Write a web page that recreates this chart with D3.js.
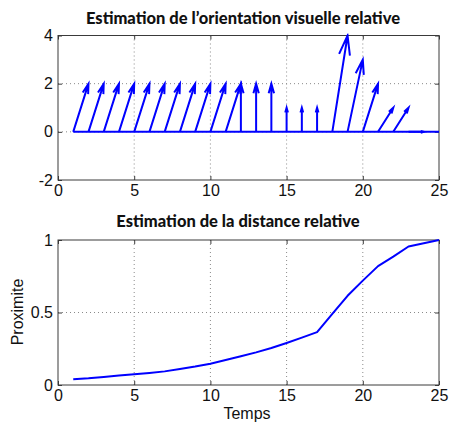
<!DOCTYPE html>
<html><head><meta charset="utf-8">
<script src="https://cdn.jsdelivr.net/npm/d3@7"></script>
<style>
html,body{margin:0;padding:0;background:#fff;}
svg{display:block;}
</style></head>
<body>
<svg id="chart" width="449" height="427"></svg>
<script>
// ---- data ----
const title1 = "Estimation de l’orientation visuelle relative";
const title2 = "Estimation de la distance relative";
const xLabel = "Temps";
const yLabel2 = "Proximite";
const xTicks = [0, 5, 10, 15, 20, 25];
const yTicks1 = [-2, 0, 2, 4];
const yTickLabels1 = ["-2", "0", "2", "4"];
const yTicks2 = [0, 0.5, 1];
const yTickLabels2 = ["0", "0.5", "1"];
// quiver: base time, u (horizontal), v (vertical)
const quiverT = [1,2,3,4,5,6,7,8,9,10,11,12,13,14,15,16,17,18,19,20,21,22,23];
const quiverU = [1,1,1,1,1,1,1,1,1,1,1,0,0,0,0,0,0,1,1,1,1,1,1];
const quiverV = [2,2,2,2,2,2,2,2,2,2,2,2,2,2,1,1,1,4,3,2,1,1,0];
const baseT = [1, 25];
const baseY = [0, 0];
// proximity curve
const timeT = [1,2,3,4,5,6,7,8,9,10,11,12,13,14,15,16,17,18,19,20,21,22,23,24,25];
const proximity = [0.040,0.046,0.055,0.065,0.074,0.083,0.094,0.110,0.127,0.147,0.172,0.198,0.225,0.255,0.290,0.327,0.365,0.490,0.615,0.720,0.820,0.885,0.955,0.977,1.000];

// ---- layout ----
const svg = d3.select("#chart");
const L = 58, R = 439;
const top1 = 35.5, bot1 = 180;
const top2 = 240, bot2 = 385;
const blue = "#0000ff";
const axisCol = "#3a3a3a";
const gridCol = "#8a8a8a";
const tickFont = "'Liberation Sans', Arial, sans-serif";
const titleFont = "Lato, 'Open Sans', sans-serif";

const x1 = d3.scaleLinear().domain([0, 25]).range([L, R]);
const y1 = d3.scaleLinear().domain([-2, 4]).range([bot1, top1]);
const x2 = d3.scaleLinear().domain([0, 25]).range([L, R]);
const y2 = d3.scaleLinear().domain([0, 1]).range([bot2, top2]);

function frame(x, y, top, bot, yt, ytl) {
  const g = svg.append("g");
  // grid
  g.append("g").selectAll("line").data(xTicks.slice(1, -1)).join("line")
    .attr("x1", d => x(d)).attr("x2", d => x(d)).attr("y1", top).attr("y2", bot)
    .attr("stroke", gridCol).attr("stroke-width", 1).attr("stroke-dasharray", "1,3");
  g.append("g").selectAll("line").data(yt.slice(1, -1)).join("line")
    .attr("y1", d => y(d)).attr("y2", d => y(d)).attr("x1", L).attr("x2", R)
    .attr("stroke", gridCol).attr("stroke-width", 1).attr("stroke-dasharray", "1,3");
  // axes
  const ax = g.append("g").attr("transform", `translate(0,${bot})`)
    .call(d3.axisBottom(x).tickValues(xTicks).tickSize(-4).tickPadding(5).tickFormat(d => String(d)));
  const axT = g.append("g").attr("transform", `translate(0,${top})`)
    .call(d3.axisTop(x).tickValues(xTicks).tickSize(-4).tickFormat(""));
  const ay = g.append("g").attr("transform", `translate(${L},0)`)
    .call(d3.axisLeft(y).tickValues(yt).tickSize(-4).tickPadding(5).tickFormat((d, i) => ytl[i]));
  const ayR = g.append("g").attr("transform", `translate(${R},0)`)
    .call(d3.axisRight(y).tickValues(yt).tickSize(-4).tickFormat(""));
  [ax, axT, ay, ayR].forEach(a => {
    a.select(".domain").remove();
    a.selectAll(".tick line").attr("stroke", axisCol);
    a.selectAll("text").attr("fill", "#111").style("font-family", tickFont).style("font-size", "16px");
  });
  g.append("rect").attr("x", L).attr("y", top).attr("width", R - L).attr("height", bot - top)
    .attr("fill", "none").attr("stroke", axisCol).attr("stroke-width", 1);
  return g;
}

// ---- top plot ----
frame(x1, y1, top1, bot1, yTicks1, yTickLabels1);
svg.append("text").attr("x", 243).attr("y", 24).attr("text-anchor", "middle")
  .style("font-family", titleFont).style("font-weight", "900").style("font-size", "16.5px")
  .attr("fill", "#111").text(title1);

svg.append("clipPath").attr("id", "c1").append("rect")
  .attr("x", L).attr("y", top1 - 2).attr("width", R - L).attr("height", bot1 - top1 + 2);
const qg = svg.append("g").attr("clip-path", "url(#c1)");
qg.append("line").attr("x1", x1(baseT[0])).attr("x2", x1(baseT[1]))
  .attr("y1", y1(baseY[0])).attr("y2", y1(baseY[1]))
  .attr("stroke", blue).attr("stroke-width", 2);
const arrows = quiverT.map((t, i) => {
  const sx = x1(t), sy = y1(0), ex = x1(t + quiverU[i]), ey = y1(quiverV[i]);
  const dx = ex - sx, dy = ey - sy;
  const a = 0.2, b = 0.28;
  const p1 = [ex - a * (dx + b * dy), ey - a * (dy - b * dx)];
  const p2 = [ex - a * (dx - b * dy), ey - a * (dy + b * dx)];
  return {sx, sy, ex, ey, p1, p2};
});
qg.selectAll("path.arrow").data(arrows).join("path").attr("class", "arrow")
  .attr("d", d => `M${d.sx},${d.sy}L${d.ex},${d.ey}M${d.p1[0]},${d.p1[1]}L${d.ex},${d.ey}L${d.p2[0]},${d.p2[1]}`)
  .attr("fill", "none").attr("stroke", blue).attr("stroke-width", 2)
  .attr("stroke-linejoin", "miter").attr("stroke-linecap", "butt");

// ---- bottom plot ----
frame(x2, y2, top2, bot2, yTicks2, yTickLabels2);
svg.append("text").attr("x", 238).attr("y", 227).attr("text-anchor", "middle")
  .style("font-family", titleFont).style("font-weight", "900").style("font-size", "16.5px")
  .attr("fill", "#111").text(title2);
svg.append("path").datum(timeT.map((t, i) => [t, proximity[i]]))
  .attr("d", d3.line().x(d => x2(d[0])).y(d => y2(d[1])))
  .attr("fill", "none").attr("stroke", blue).attr("stroke-width", 2).attr("stroke-linejoin", "round");
svg.append("text").attr("x", 247).attr("y", 419).attr("text-anchor", "middle")
  .style("font-family", tickFont).style("font-size", "16px").attr("fill", "#111").text(xLabel);
svg.append("text").attr("transform", `translate(23,312) rotate(-90)`).attr("text-anchor", "middle")
  .style("font-family", tickFont).style("font-size", "16px").attr("fill", "#111").text(yLabel2);
</script>
</body></html>
